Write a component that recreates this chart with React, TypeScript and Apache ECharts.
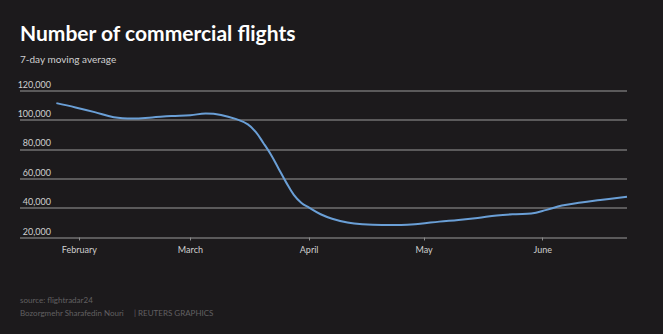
import React, { useEffect, useRef } from "react";
import * as echarts from "echarts";

const dates = [
  "2020-01-26", "2020-01-31", "2020-02-05", "2020-02-10", "2020-02-15", "2020-02-20",
  "2020-02-25", "2020-03-01", "2020-03-05", "2020-03-09", "2020-03-13", "2020-03-16",
  "2020-03-18", "2020-03-20", "2020-03-22", "2020-03-24", "2020-03-26", "2020-03-28",
  "2020-03-30", "2020-04-01", "2020-04-04", "2020-04-07", "2020-04-11", "2020-04-15",
  "2020-04-20", "2020-04-25", "2020-04-30", "2020-05-05", "2020-05-10", "2020-05-15",
  "2020-05-20", "2020-05-25", "2020-05-29", "2020-06-02", "2020-06-06", "2020-06-11",
  "2020-06-16", "2020-06-23",
];
const flights = [
  111400, 108500, 105300, 101800, 100900, 101700,
  102600, 103200, 104300, 103400, 100500, 97000,
  92000, 84500, 76500, 67000, 57500, 49000,
  43500, 40300, 35800, 32800, 30200, 29000,
  28500, 28500, 29400, 30800, 31900, 33300,
  35000, 35900, 36300, 38800, 41700, 43800,
  45500, 47800,
];
const axisRange = ["2020-01-16T12:00:00Z", "2020-06-23T00:00:00Z"];
const tickDates = ["2020-02-01", "2020-03-01", "2020-04-01", "2020-05-01", "2020-06-01"];
const tickLabels = ["February", "March", "April", "May", "June"];
const yTicks = [20000, 40000, 60000, 80000, 100000, 120000];

const toTs = (s: string) => Date.parse(s.length > 10 ? s : s + "T00:00:00Z");

export default function App() {
  const ref = useRef<HTMLDivElement>(null);
  useEffect(() => {
    if (!ref.current) return;
    const chart = echarts.init(ref.current, null, { renderer: "svg" });
    const font = "Lato, 'Noto Sans', sans-serif";
    const tickTs = tickDates.map(toTs);
    chart.setOption({
      animation: false,
      backgroundColor: "#1c1a1c",
      textStyle: { fontFamily: font },
      title: [
        {
          text: "Number of commercial flights",
          left: 20,
          top: 22,
          padding: 0,
          textStyle: { color: "#ffffff", fontSize: 21, fontWeight: "bold", fontFamily: font },
        },
        {
          text: "7-day moving average",
          left: 20,
          top: 54,
          padding: 0,
          textStyle: { color: "#d0d0d0", fontSize: 10, fontWeight: "normal", fontFamily: font },
        },
        {
          text: "source: flightradar24",
          left: 20,
          top: 296,
          padding: 0,
          textStyle: { color: "#626062", fontSize: 8, fontWeight: "normal", fontFamily: font },
        },
        {
          text: "Bozorgmehr Sharafedin Nouri     | REUTERS GRAPHICS",
          left: 20,
          top: 309,
          padding: 0,
          textStyle: { color: "#626062", fontSize: 8, fontWeight: "normal", fontFamily: font },
        },
      ],
      grid: { left: 20, right: 36, top: 90.5, bottom: 96.5, containLabel: false },
      xAxis: {
        type: "value",
        min: toTs(axisRange[0]),
        max: toTs(axisRange[1]),
        axisLine: { show: false },
        axisTick: {
          show: true,
          customValues: tickTs,
          length: 3,
          lineStyle: { color: "#8a8a8a", width: 1 },
        },
        axisLabel: {
          customValues: tickTs,
          color: "#cfcfcf",
          fontSize: 9,
          margin: 7,
          fontFamily: font,
          formatter: (v: number) => {
            const i = tickTs.indexOf(v);
            return i >= 0 ? tickLabels[i] : "";
          },
        },
        splitLine: { show: false },
      },
      yAxis: {
        type: "value",
        min: yTicks[0],
        max: yTicks[yTicks.length - 1],
        interval: 20000,
        axisLine: { show: false },
        axisTick: { show: false },
        axisLabel: {
          inside: true,
          align: "right",
          verticalAlign: "bottom",
          margin: 31,
          padding: [0, 0, 2, 0],
          color: "#cfcfcf",
          fontSize: 9,
          fontFamily: font,
          formatter: (v: number) => v.toLocaleString("en-US"),
        },
        splitLine: { show: true, lineStyle: { color: "#707070", width: 1.5 } },
      },
      series: [
        {
          type: "line",
          data: dates.map((d, i) => [toTs(d), flights[i]]),
          smooth: 0.4,
          showSymbol: false,
          lineStyle: { color: "#6a9fd6", width: 2 },
        },
      ],
    });
    return () => chart.dispose();
  }, []);
  return <div ref={ref} style={{ width: 663, height: 334, position: "absolute", left: 0, top: 0 }} />;
}
